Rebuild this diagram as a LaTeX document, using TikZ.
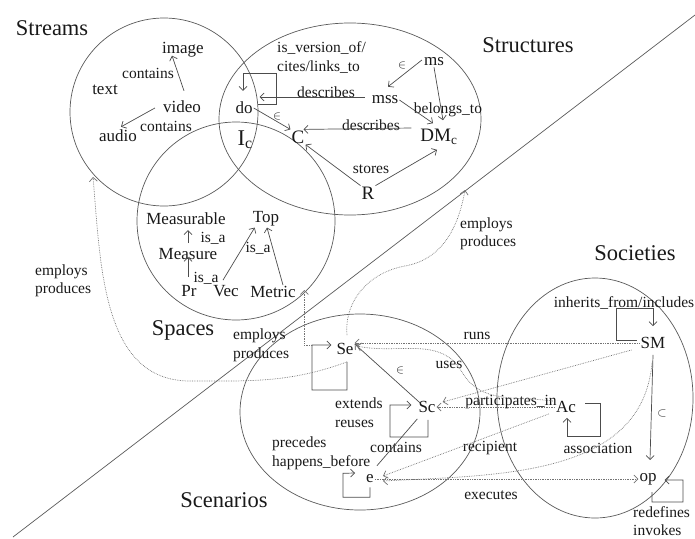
\documentclass[tikz,border=0pt]{standalone}
\usepackage{fontspec}
\setmainfont{Liberation Serif}
\usetikzlibrary{arrows.meta,calc}
\begin{document}
\begin{tikzpicture}[x=1pt,y=-1pt,
 every node/.style={inner sep=1pt, text=black!90},
 ttl/.style={font=\fontsize{22.5}{25}\selectfont},
 nd/.style={font=\fontsize{17}{19}\selectfont},
 big/.style={font=\fontsize{19}{21}\selectfont},
 el/.style={font=\fontsize{15.5}{18.5}\selectfont},
 eml/.style={font=\fontsize{15.5}{18.5}\selectfont, align=left, anchor=west, inner sep=0pt},
 sym/.style={font=\fontsize{12}{12}\selectfont},
 region/.style={draw=black!65, line width=0.7pt},
 arr/.style={draw=black!70, line width=0.7pt, -{Straight Barb[length=4pt,width=8pt]}},
 ln/.style={draw=black!70, line width=0.7pt},
 darr/.style={draw=black!55, line width=0.7pt, densely dotted, -{Straight Barb[length=4pt,width=8pt]}},
]
\useasboundingbox (0,0) rectangle (695,538);

% regions
\draw[region] (164,112) circle[radius=94pt];
\draw[region] (350,119) ellipse[x radius=131pt, y radius=96pt];
\draw[region] (236,221) circle[radius=99pt];
\draw[region] (360,412) ellipse[x radius=120pt, y radius=98pt];
\draw[region] (595,398) ellipse[x radius=98pt, y radius=120pt];
\draw[region] (13,537) -- (695,15);

% titles
\node[ttl] (tStreams) at (52,28) {Streams};
\node[ttl] (tStructures) at (528,45) {Structures};
\node[ttl] (tSpaces) at (183,330) {Spaces};
\node[ttl] (tSocieties) at (635,253) {Societies};
\node[ttl] (tScenarios) at (224,500) {Scenarios};

% streams
\node[nd] (image) at (183,50) {image};
\node[nd] (txt) at (105,90) {text};
\node[nd] (video) at (182,107) {video};
\node[nd] (audio) at (118,136) {audio};
\node[el] (l1) at (148,73) {contains};
\node[el] (l2) at (166,126) {contains};
\draw[arr] ($(video.north)+(2,-9)$) -- ($(image.south)+(-11,-3)$);
\draw[arr] ($(video.west)+(-7,1)$) -- ($(audio.north)+(3,-2)$);

% structures
\node[nd] (do) at (244,108) {do};
\node[ttl] (Ic) at (245,140) {I\textsubscript{c}};
\node[big] (C) at (298,137) {C};
\node[big] (DM) at (439,137) {DM\textsubscript{c}};
\node[big] (R) at (368,193) {R};
\node[nd] (mss) at (385,100) {mss};
\node[nd] (ms) at (434,62) {ms};
\node[eml] (l3) at (277,57.5) {is\_version\_of/\\cites/links\_to};
\node[el] (l4) at (326,92) {describes};
\node[sym] (l5) at (277,116) {$\in$};
\node[el] (l6) at (371,125) {describes};
\node[el] (l7) at (371,169) {stores};
\node[sym] (l8) at (402,65) {$\in$};
\node[el] (l9) at (448,110) {belongs\_to};
\draw[arr] ($(do.east)+(4,-4)$) -- ++(19,0) |- ($(do.north)+(-1,-27)$) -- ($(do.north)+(-1,-10)$);
\draw[arr] ($(mss.west)+(-6,-3)$) -- ($(do.east)+(6,-11)$);
\draw[arr] (do.east) -- (C.north west);
\draw[arr] ($(DM.west)+(-8,-9)$) -- ($(C.north east)+(-2,0)$);
\draw[arr] (R.north west) -- (C.south east);
\draw[arr] (R.north east) -- ($(DM.south)+(-2,4)$);
\draw[arr] ($(ms.west)+(-1,-2)$) -- ($(mss.north)+(3,-8)$);
\draw[arr] (mss.east) -- ($(DM.north)+(-6,-5)$);
\draw[arr] (ms.south) -- ($(DM.north)+(4,-8)$);

% spaces
\node[nd] (Measurable) at (186,219) {Measurable};
\node[nd] (Top) at (266,219) {Top};
\node[nd] (Measure) at (188,254) {Measure};
\node[nd] (Pr) at (189,291) {Pr};
\node[nd] (Vec) at (226,291) {Vec};
\node[nd] (Metric) at (273,292) {Metric};
\node[el] (l10) at (213,238) {is\_a};
\node[el] (l11) at (206,278) {is\_a};
\node[el] (l12) at (258,248) {is\_a};
\draw[arr] ($(Measure.north)+(0,-4)$) -- ($(Measure.north |- Measurable.south)+(0,4)$);
\draw[arr] ($(Pr.north)+(-1,-7)$) -- ($(Measure.south)+(0,-4)$);
\draw[arr] ($(Vec.north)+(-3,-4)$) -- ($(Top.south west)+(3,0)$);
\draw[arr] ($(Metric.north)+(10,0)$) -- ($(Top.south)+(1,0)$);

% scenarios
\node[nd] (Se) at (345,349) {Se};
\node[nd] (Sc) at (427,407) {Sc};
\node[nd] (e) at (370,479) {e};
\node[eml] (l13) at (335,412.5) {extends\\reuses};
\node[eml] (l14) at (272,453.5) {precedes\\happens\_before};
\node[el] (l15) at (396,447) {contains};
\node[sym] (l16) at (400,370) {$\in$};
\draw[arr] ($(Se.south)+(2,6)$) -- ++(0,28) -| ++(-35,-45) -- ($(Se.west)+(-4,-4)$);
\draw[arr] ($(Sc.north west)+(3,3)$) -- ($(Se.east)+(0,-5)$);
\draw[arr] ($(Sc.south)+(1,6)$) -- ++(0,17) -| ++(-38,-32) -- ($(Sc.west)+(-6,-2)$);
\draw[ln] ($(Sc.south west)+(0,5)$) -- ($(e.north east)+(2,-8)$);
\draw[arr] ($(e.south)+(0,3)$) -- ++(0,10) -| ++(-27,-24) -- ($(e.west)+(-10,-6)$);

% societies
\node[nd] (SM) at (653,343) {SM};
\node[nd] (Ac) at (566,407) {Ac};
\node[nd] (op) at (648,479) {op};
\node[el] (l17) at (624,303) {inherits\_from/includes};
\node[sym] (l18) at (662,413) {$\subset$};
\node[el] (l19) at (598,448) {association};
\node[eml] (l20) at (633,521) {redefines\\invokes};
\draw[arr] ($(SM.west)+(-3,-3)$) -- ++(-20,0) |- ($(SM.north)+(0,-28)$) -- ($(SM.north)+(0,-10)$);
\draw[arr] ($(SM.south)+(0,5)$) -- ($(op.north)+(2,-12)$);
\draw[arr] ($(op.south)+(4,6)$) -- ++(0,10) -| ++(31,-22) -- ($(op.east)+(7,1)$);
\draw[arr] ($(Ac.east)+(8,-4)$) -- ++(15,0) |- ($(Ac.south)+(1,22)$) -- ($(Ac.south)+(1,4)$);

% cross links
\node[el] (l21) at (477,336) {runs};
\node[el] (l22) at (449,365) {uses};
\node[el] (l23) at (511,402) {participates\_in};
\node[el] (l24) at (490,448) {recipient};
\node[el] (l25) at (491,495) {executes};
\node[eml] (l26) at (35,281) {employs\\produces};
\node[eml] (l27) at (233,345.5) {employs\\produces};
\node[eml] (l28) at (460,234) {employs\\produces};
\coordinate (strmB) at (93,177);
\coordinate (strB) at (465,190);

\draw[darr] (SM.west) -- (SM.west -| Se.east);
\draw[darr] ($(Ac.west)+(-2,-6)$) to[out=172,in=-60] (462,372) to[out=120,in=-12] ($(Se.east)+(2,-3)$);
\draw[darr] (Ac.west) -- (Sc.east);
\draw[darr] ($(SM.west)+(-8,7)$) -- ($(Sc.east)+(6,-5)$);
\draw[darr] ($(Ac.south west)+(-6,0)$) -- ($(e.east)+(8,-3)$);
\draw[darr] ($(SM.south)+(-1,13)$) to[out=-95,in=3] ($(e.east)+(8,2)$);
\draw[darr] (e.east) -- (op.west);
\draw[darr] ($(Se.west)+(-24,-4)$) -- ++(-7,0) -- ++(0,-55);
\draw[darr] ($(Se.south)+(2,6)$) to[out=200,in=0] (190,381) to[out=180,in=-85] (strmB);
\draw[darr] ($(Se.north)+(2,-7)$) to[out=95,in=190] (405,266) to[out=10,in=-100] (strB);
\end{tikzpicture}
\end{document}
